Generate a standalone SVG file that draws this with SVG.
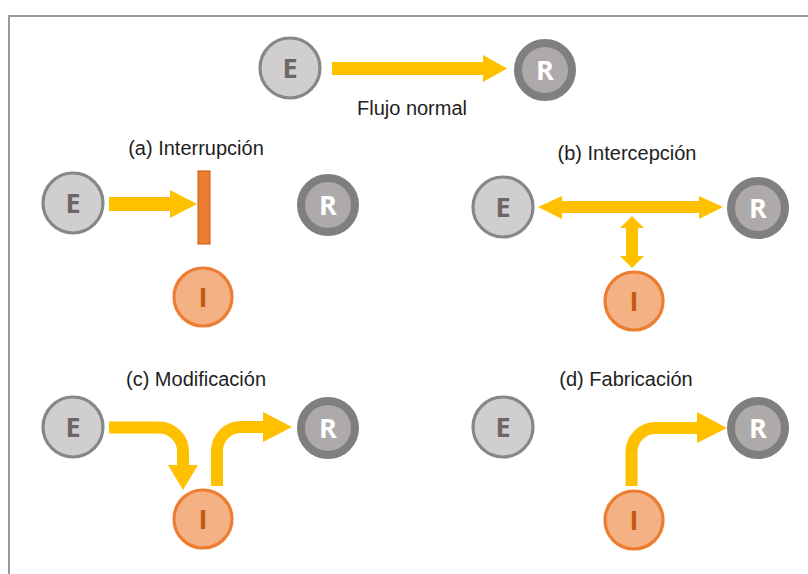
<svg xmlns="http://www.w3.org/2000/svg" width="808" height="574" viewBox="0 0 808 574">
  <style>
    .frame { fill: none; stroke: #9a9a9a; stroke-width: 2; }
    .title { font-family: "Liberation Sans", Arial, sans-serif; font-size: 20px; fill: #1e1e1e; text-anchor: middle; }
    .e-ring { fill: #d0cecf; stroke: #878787; stroke-width: 3.2; }
    .r-ring { fill: #aeaaaa; stroke: #7f7f7f; stroke-width: 8; }
    .i-ring { fill: #f4b183; stroke: #ed7d31; stroke-width: 3.2; }
    .ltr { font-family: "Open Sans", "DejaVu Sans", sans-serif; font-weight: 700; font-size: 27px; text-anchor: middle; }
    .e-txt { fill: #6b6767; }
    .r-txt { fill: #ffffff; }
    .i-txt { fill: #c55a11; }
    .flow { fill: #ffc000; }
    .flow-line { fill: none; stroke: #ffc000; stroke-width: 12; }
    .block { fill: #ed7d31; stroke: #c55a11; stroke-width: 1; }
  </style>

  <rect class="frame" x="9" y="16" width="820" height="580"/>

  <!-- titles -->
  <g id="titles">
    <text class="title" x="412" y="115">Flujo normal</text>
    <text class="title" x="196" y="155">(a) Interrupción</text>
    <text class="title" x="627" y="160">(b) Intercepción</text>
    <text class="title" x="196" y="386">(c) Modificación</text>
    <text class="title" x="626" y="386">(d) Fabricación</text>
  </g>

  <!-- connectors -->
  <g id="connectors">
    <!-- normal flow -->
    <polygon class="flow" points="332,62 483,62 483,55 507,68.5 483,82 483,75 332,75"/>
    <!-- (a) interrupted flow -->
    <polygon class="flow" points="109,197 170,197 170,190 197,204 170,218 170,211 109,211"/>
    <rect class="block" x="198" y="171" width="12" height="73"/>
    <!-- (b) interception -->
    <polygon class="flow" points="538,207 562,196 562,201 699,201 699,196 723,207 699,219 699,213 562,213 562,219"/>
    <polygon class="flow" points="632,216 644,228 638,228 638,256 644,256 632,268 620,256 626,256 626,228 620,228"/>
    <!-- (c) modification -->
    <path class="flow-line" d="M109,427.5 H159 A24,24 0 0 1 183,451.5 V466"/>
    <polygon class="flow" points="168,465 198,465 183,490"/>
    <path class="flow-line" d="M217,486 V451 A24,24 0 0 1 241,427 H264"/>
    <polygon class="flow" points="263,412 292,427 263,442"/>
    <!-- (d) fabrication -->
    <path class="flow-line" d="M631.5,486 V452 A24,24 0 0 1 655.5,428 H698"/>
    <polygon class="flow" points="697,412 727,428 697,443"/>
  </g>

  <!-- nodes -->
  <g id="normal-E"><circle class="e-ring" cx="290" cy="68" r="30"/><text class="ltr e-txt" x="290" y="77.5">E</text></g>
  <g id="normal-R"><circle class="r-ring" cx="545" cy="70" r="27"/><text class="ltr r-txt" x="545" y="79.5">R</text></g>

  <g id="a-E"><circle class="e-ring" cx="73" cy="203" r="30"/><text class="ltr e-txt" x="73" y="212.5">E</text></g>
  <g id="a-R"><circle class="r-ring" cx="328" cy="205" r="27"/><text class="ltr r-txt" x="328" y="214.5">R</text></g>
  <g id="a-I"><circle class="i-ring" cx="203" cy="297" r="29"/><text class="ltr i-txt" x="203" y="306.5">I</text></g>

  <g id="b-E"><circle class="e-ring" cx="503" cy="207" r="30"/><text class="ltr e-txt" x="503" y="216.5">E</text></g>
  <g id="b-R"><circle class="r-ring" cx="758" cy="208" r="27"/><text class="ltr r-txt" x="758" y="217.5">R</text></g>
  <g id="b-I"><circle class="i-ring" cx="634" cy="301" r="29"/><text class="ltr i-txt" x="634" y="310.5">I</text></g>

  <g id="c-E"><circle class="e-ring" cx="73" cy="427" r="30"/><text class="ltr e-txt" x="73" y="436.5">E</text></g>
  <g id="c-R"><circle class="r-ring" cx="328" cy="428" r="27"/><text class="ltr r-txt" x="328" y="437.5">R</text></g>
  <g id="c-I"><circle class="i-ring" cx="203" cy="519" r="29"/><text class="ltr i-txt" x="203" y="528.5">I</text></g>

  <g id="d-E"><circle class="e-ring" cx="503" cy="427" r="30"/><text class="ltr e-txt" x="503" y="436.5">E</text></g>
  <g id="d-R"><circle class="r-ring" cx="758" cy="428" r="27"/><text class="ltr r-txt" x="758" y="437.5">R</text></g>
  <g id="d-I"><circle class="i-ring" cx="634" cy="520" r="29"/><text class="ltr i-txt" x="634" y="529.5">I</text></g>
</svg>
